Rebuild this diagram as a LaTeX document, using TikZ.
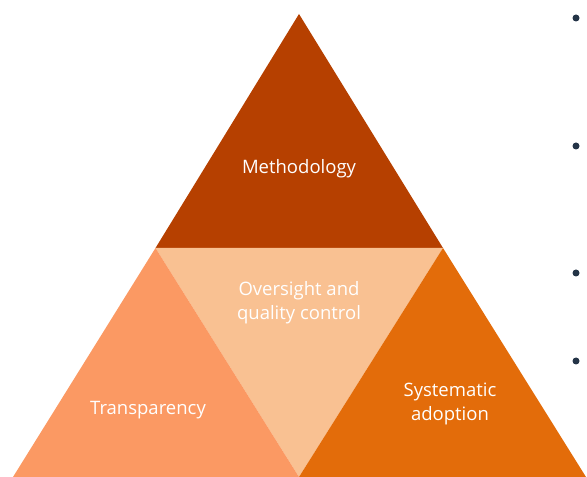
\documentclass[tikz,border=0pt]{standalone}
\usepackage{fontspec}
\setmainfont{Open Sans}
\definecolor{topc}{HTML}{B64000}
\definecolor{midc}{HTML}{F9C192}
\definecolor{leftc}{HTML}{FB9963}
\definecolor{rightc}{HTML}{E36C0A}
\definecolor{bulc}{HTML}{243447}
\begin{document}
\begin{tikzpicture}[x=1pt,y=1pt,
  lbl/.style={text=white,font=\fontsize{18.5}{24}\selectfont,align=center},
  bul/.style={circle,fill=bulc,inner sep=0pt,minimum size=7pt}]
\useasboundingbox (0,0) rectangle (587,477);
\coordinate (A) at (299,463);
\coordinate (L) at (155.5,229);
\coordinate (R) at (443,229);
\coordinate (BL) at (13,0);
\coordinate (BM) at (299,0);
\coordinate (BR) at (586,0);
\fill[topc] (A) -- (L) -- (R) -- cycle;
\fill[midc] (L) -- (R) -- (BM) -- cycle;
\fill[leftc] (L) -- (BL) -- (BM) -- cycle;
\fill[rightc] (R) -- (BM) -- (BR) -- cycle;
\node[lbl] (m) at (299,308) {Methodology};
\node[lbl] (o) at (299,174) {Oversight and\\quality control};
\node[lbl] (t) at (148,67) {Transparency};
\node[lbl] (s) at (450,73) {Systematic\\adoption};
\node[bul] (b1) at (576,459) {};
\node[bul] (b2) at (576,331) {};
\node[bul] (b3) at (576,204) {};
\node[bul] (b4) at (576,116) {};
\end{tikzpicture}
\end{document}
